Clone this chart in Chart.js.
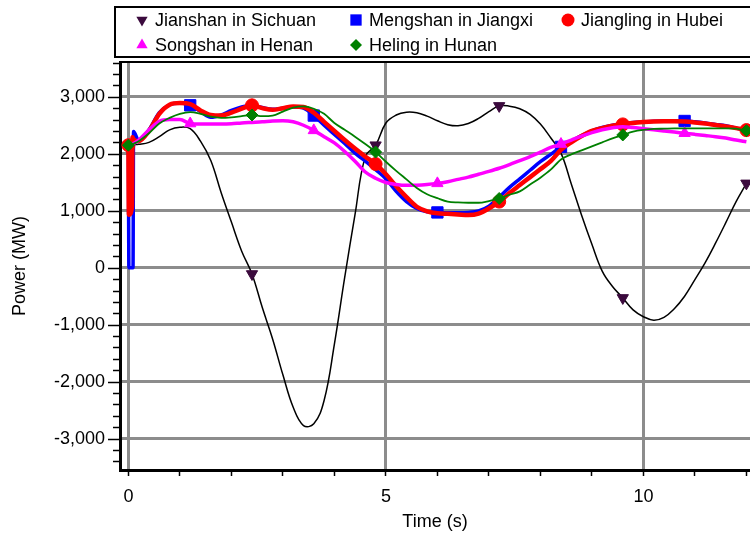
<!DOCTYPE html>
<html>
<head>
<meta charset="utf-8">
<script src="https://cdn.jsdelivr.net/npm/chart.js@4.4.1/dist/chart.umd.min.js"></script>
<style>
  html, body { margin: 0; padding: 0; background: #fff; }
</style>
</head>
<body>
<canvas id="powerChart" width="750" height="535"></canvas>
<script>
// time samples (s); the first few catch the switching spike at t = 0
const times = [0, 0.01, 0.07, 0.08, 0.09, 0.1,
  0.2, 0.4, 0.6, 0.8, 1, 1.2, 1.4, 1.6, 1.8, 2,
  2.2, 2.4, 2.6, 2.8, 3, 3.2, 3.4, 3.6, 3.8, 4,
  4.2, 4.4, 4.6, 4.8, 5, 5.2, 5.4, 5.6, 5.8, 6,
  6.2, 6.4, 6.6, 6.8, 7, 7.2, 7.4, 7.6, 7.8, 8,
  8.2, 8.4, 8.6, 8.8, 9, 9.2, 9.4, 9.6, 9.8, 10,
  10.2, 10.4, 10.6, 10.8, 11, 11.2, 11.4, 11.6, 11.8, 12];

const seriesNames = ['Jianshan in Sichuan', 'Mengshan in Jiangxi', 'Jiangling in Hubei',
  'Songshan in Henan', 'Heling in Hunan'];

// power (MW)
const jianshan = [2150, 2150, 2155, 2155, 2160, 2160,
  2165, 2200, 2300, 2420, 2465, 2440, 2220, 1880, 1320, 800,
  290, -110, -700, -1250, -1880, -2450, -2770, -2740, -2330, -1340,
  -170, 930, 1950, 2150, 2540, 2680, 2730, 2720, 2660, 2580,
  2510, 2490, 2530, 2620, 2740, 2840, 2835, 2790, 2690, 2520,
  2280, 2010, 1470, 920, 410, -60, -330, -530, -740, -860,
  -920, -870, -720, -500, -210, 90, 430, 790, 1160, 1480];

const mengshan = [2150, 0, 0, 0, 0, 2390,
  2230, 2420, 2720, 2860, 2890, 2850, 2740, 2640, 2680, 2760,
  2820, 2850, 2810, 2780, 2800, 2820, 2800, 2670, 2500, 2340,
  2180, 2010, 1870, 1720, 1560, 1340, 1160, 1040, 980, 970,
  965, 965, 970, 995, 1080, 1240, 1410, 1560, 1710, 1860,
  1990, 2120, 2220, 2320, 2400, 2460, 2500, 2530, 2550, 2560,
  2570, 2575, 2575, 2575, 2560, 2540, 2515, 2490, 2450, 2400];

const jiangling = [2150, 930, 1070, 2290, 2270, 2250,
  2220, 2400, 2700, 2860, 2890, 2870, 2760, 2680, 2670, 2720,
  2790, 2850, 2800, 2770, 2800, 2830, 2820, 2720, 2560, 2400,
  2240, 2090, 1950, 1820, 1640, 1430, 1240, 1070, 990, 955,
  945, 935, 925, 950, 1040, 1160, 1310, 1450, 1590, 1730,
  1870, 2070, 2200, 2310, 2400, 2450, 2490, 2515, 2540, 2555,
  2565, 2570, 2570, 2565, 2550, 2530, 2505, 2480, 2450, 2415];

const songshan = [2150, 2155, 2165, 2170, 2175, 2180,
  2240, 2420, 2570, 2600, 2600, 2530, 2520, 2520, 2520, 2525,
  2540, 2550, 2560, 2575, 2580, 2560, 2500, 2410, 2300, 2190,
  2040, 1870, 1680, 1570, 1495, 1460, 1445, 1448, 1460, 1480,
  1510, 1550, 1590, 1640, 1690, 1745, 1810, 1880, 1950, 2030,
  2110, 2170, 2240, 2310, 2370, 2420, 2455, 2475, 2460, 2440,
  2420, 2400, 2380, 2360, 2340, 2320, 2300, 2275, 2240, 2210];

const heling = [2150, 2155, 2160, 2165, 2170, 2175,
  2220, 2360, 2530, 2630, 2700, 2730, 2700, 2650, 2630, 2640,
  2660, 2680, 2660, 2670, 2740, 2810, 2830, 2790, 2700, 2540,
  2420, 2300, 2170, 2030, 1860, 1700, 1550, 1400, 1290, 1220,
  1160, 1145, 1140, 1140, 1170, 1215, 1280, 1340, 1460, 1580,
  1720, 1900, 1990, 2060, 2130, 2200, 2270, 2330, 2390, 2420,
  2435, 2440, 2445, 2445, 2445, 2445, 2445, 2445, 2440, 2405];

const seriesValues = [jianshan, mengshan, jiangling, songshan, heling];

// axis ticks: labelled every 5 s / 1,000 MW, small marks in between
const xTicks = [0, 1, 2, 3, 4, 5, 6, 7, 8, 9, 10, 11, 12];
const yTicks = [-3400, -3200, -3000, -2800, -2600, -2400, -2200, -2000, -1800, -1600,
  -1400, -1200, -1000, -800, -600, -400, -200, 0, 200, 400, 600, 800, 1000, 1200,
  1400, 1600, 1800, 2000, 2200, 2400, 2600, 2800, 3000, 3200, 3400, 3600];

// where each curve carries a marker
const marksA = [0, 2.4, 4.8, 7.2, 9.6, 12];
const marksB = [1.2, 3.6, 6, 8.4, 10.8];

const styles = [
  { line: '#000000', mark: '#3b0a3d', width: 1.5, shape: 'triangle', rot: 180, r: 6.5, marks: marksA, order: 5, smooth: 'default' },
  { line: '#0000ff', mark: '#0000ff', width: 3.5, shape: 'rect', rot: 0, r: 8, marks: marksB, order: 4, smooth: 'monotone' },
  { line: '#ff0000', mark: '#ff0000', width: 4.5, shape: 'circle', rot: 0, r: 6.5, marks: marksA, order: 3, smooth: 'monotone' },
  { line: '#ff00ff', mark: '#ff00ff', width: 3.5, shape: 'triangle', rot: 0, r: 6.5, marks: marksB, order: 2, smooth: 'monotone' },
  { line: '#008000', mark: '#008000', width: 1.8, shape: 'rectRot', rot: 0, r: 6, marks: marksA, order: 1, smooth: 'monotone' }
];

function drawMarker(ctx, shape, rot, x, y, r, color) {
  ctx.save();
  ctx.fillStyle = color;
  ctx.beginPath();
  if (shape === 'circle') {
    ctx.arc(x, y, r, 0, Math.PI * 2);
  } else if (shape === 'rect') {
    const s = r * Math.SQRT1_2;
    ctx.rect(x - s, y - s, 2 * s, 2 * s);
  } else if (shape === 'rectRot') {
    ctx.moveTo(x, y - r); ctx.lineTo(x + r, y); ctx.lineTo(x, y + r); ctx.lineTo(x - r, y);
  } else {
    let a = rot * Math.PI / 180;
    for (let k = 0; k < 3; k++) {
      const px = x + Math.sin(a) * r, py = y - Math.cos(a) * r;
      if (k === 0) ctx.moveTo(px, py); else ctx.lineTo(px, py);
      a += 2 * Math.PI / 3;
    }
  }
  ctx.closePath();
  ctx.fill();
  ctx.restore();
}

const legendSpots = [[142, 20], [356, 20], [568, 20], [142, 45], [356, 45]];

const framePlugin = {
  id: 'frame',
  afterDraw(chart) {
    const { ctx, chartArea: a } = chart;
    const yScale = chart.scales.y;
    ctx.save();
    ctx.strokeStyle = '#000';
    ctx.lineWidth = 1.5;
    yScale.ticks.forEach(t => {
      const py = Math.round(yScale.getPixelForValue(t.value)) + 0.5;
      const len = t.value % 1000 === 0 ? 12 : 7;
      ctx.beginPath();
      ctx.moveTo(a.left - len, py);
      ctx.lineTo(a.left, py);
      ctx.stroke();
    });
    ctx.lineWidth = 2;
    ctx.beginPath();
    ctx.moveTo(a.left - 1, a.top);
    ctx.lineTo(a.right, a.top);
    ctx.stroke();

    // legend box
    ctx.strokeRect(115, 7, 700, 50);
    ctx.font = '18px "Liberation Sans", Arial, sans-serif';
    ctx.textBaseline = 'middle';
    seriesNames.forEach((name, i) => {
      const [lx, ly] = legendSpots[i];
      const st = styles[i];
      drawMarker(ctx, st.shape, st.rot, lx, ly, st.r, st.mark);
      ctx.fillStyle = '#000';
      ctx.fillText(name, lx + 13, ly + 1);
    });
    ctx.restore();
  }
};

Chart.defaults.font.family = '"Liberation Sans", Arial, sans-serif';
Chart.defaults.font.size = 18;
Chart.defaults.color = '#000';

const datasets = seriesNames.map((name, i) => {
  const st = styles[i];
  const markRadius = ctx => {
    if (!ctx.raw) return 0;
    return st.marks.some(m => Math.abs(m - ctx.raw.x) < 1e-6) ? st.r : 0;
  };
  return {
    label: name,
    data: times.map((t, k) => ({ x: t, y: seriesValues[i][k] })),
    borderColor: st.line,
    borderWidth: st.width,
    backgroundColor: st.mark,
    pointBackgroundColor: st.mark,
    pointBorderColor: st.mark,
    pointBorderWidth: 1,
    pointStyle: st.shape,
    pointRotation: st.rot,
    pointRadius: markRadius,
    pointHoverRadius: markRadius,
    cubicInterpolationMode: st.smooth,
    tension: st.smooth === 'default' ? 0.4 : 0,
    fill: false,
    order: st.order
  };
});

new Chart(document.getElementById('powerChart'), {
  type: 'line',
  data: { datasets },
  options: {
    responsive: false,
    animation: false,
    events: [],
    layout: { autoPadding: false, padding: { top: 62, left: 0, right: 0, bottom: 0 } },
    plugins: {
      legend: { display: false },
      tooltip: { enabled: false }
    },
    scales: {
      x: {
        type: 'linear',
        min: -0.163,
        max: 12.07,
        afterBuildTicks: s => { s.ticks = xTicks.map(v => ({ value: v })); },
        afterFit: s => { s.height = 65; s.paddingLeft = 0; s.paddingRight = 0; },
        ticks: {
          autoSkip: false,
          maxRotation: 0,
          padding: 10,
          callback: v => (v % 5 === 0 ? String(v) : '')
        },
        grid: {
          color: ctx => (ctx.tick && ctx.tick.value % 5 === 0 ? '#8c8c8c' : 'rgba(0,0,0,0)'),
          lineWidth: 3,
          tickColor: '#000',
          tickLength: 6,
          tickWidth: 1.5
        },
        border: { color: '#000', width: 3 },
        title: { display: true, text: 'Time (s)', padding: { top: 0, bottom: 2 } }
      },
      y: {
        min: -3550,
        max: 3610,
        afterBuildTicks: s => { s.ticks = yTicks.map(v => ({ value: v })); },
        afterFit: s => { s.width = 120; },
        ticks: {
          autoSkip: false,
          padding: 15,
          callback: v => (v % 1000 === 0 ? v.toLocaleString('en-US') : '')
        },
        grid: {
          drawTicks: false,
          color: ctx => (ctx.tick && ctx.tick.value % 1000 === 0 ? '#8c8c8c' : 'rgba(0,0,0,0)'),
          lineWidth: 3
        },
        border: { color: '#000', width: 3 },
        title: { display: true, text: 'Power (MW)', padding: { top: 9, bottom: 0 } }
      }
    }
  },
  plugins: [framePlugin]
});
</script>
</body>
</html>
